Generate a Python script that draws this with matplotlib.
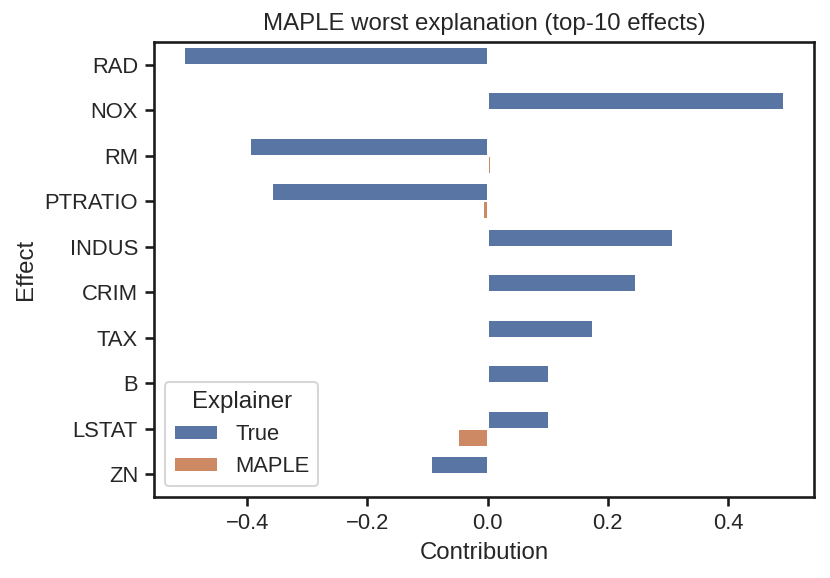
import matplotlib
matplotlib.use('Agg')
import matplotlib.pyplot as plt
import seaborn as sns
import pandas as pd

# effects sorted by size of the true contribution
effects = ['RAD', 'NOX', 'RM', 'PTRATIO', 'INDUS', 'CRIM', 'TAX', 'B', 'LSTAT', 'ZN']
true_vals = [-0.505, 0.493, -0.395, -0.358, 0.308, 0.247, 0.175, 0.102, 0.102, -0.094]
maple_vals = [0.0, 0.0, 0.005, -0.007, 0.0, 0.0, 0.0, 0.0, -0.050, 0.0]

df = pd.DataFrame({
    'Effect': effects + effects,
    'Contribution': true_vals + maple_vals,
    'Explainer': ['True'] * len(effects) + ['MAPLE'] * len(effects),
})

sns.set_style('ticks')
plt.rcParams['font.family'] = ['Liberation Sans', 'DejaVu Sans']
plt.rcParams['axes.linewidth'] = 1.3
plt.rcParams['axes.edgecolor'] = '.1'
plt.rcParams['xtick.major.width'] = 1.3
plt.rcParams['ytick.major.width'] = 1.3
plt.rcParams['xtick.major.size'] = 4.5
plt.rcParams['ytick.major.size'] = 4.5

fig = plt.figure(figsize=(830 / 144, 578 / 144), dpi=144)
ax = fig.add_axes([154 / 830, 1 - 497 / 578, (814 - 154) / 830, (497 - 42) / 578])

sns.barplot(data=df, x='Contribution', y='Effect', hue='Explainer',
            order=effects, hue_order=['True', 'MAPLE'], orient='h',
            palette='deep', saturation=0.75, ax=ax, errorbar=None)

ax.set_title('MAPLE worst explanation (top-10 effects)', fontsize=12)
ax.set_xlabel('Contribution', fontsize=12)
ax.set_ylabel('Effect', fontsize=12)
ax.tick_params(labelsize=11, color='.1')
leg = ax.legend(title='Explainer', loc='lower left', fontsize=11, title_fontsize=12)

fig.savefig('out.png', dpi=144)
